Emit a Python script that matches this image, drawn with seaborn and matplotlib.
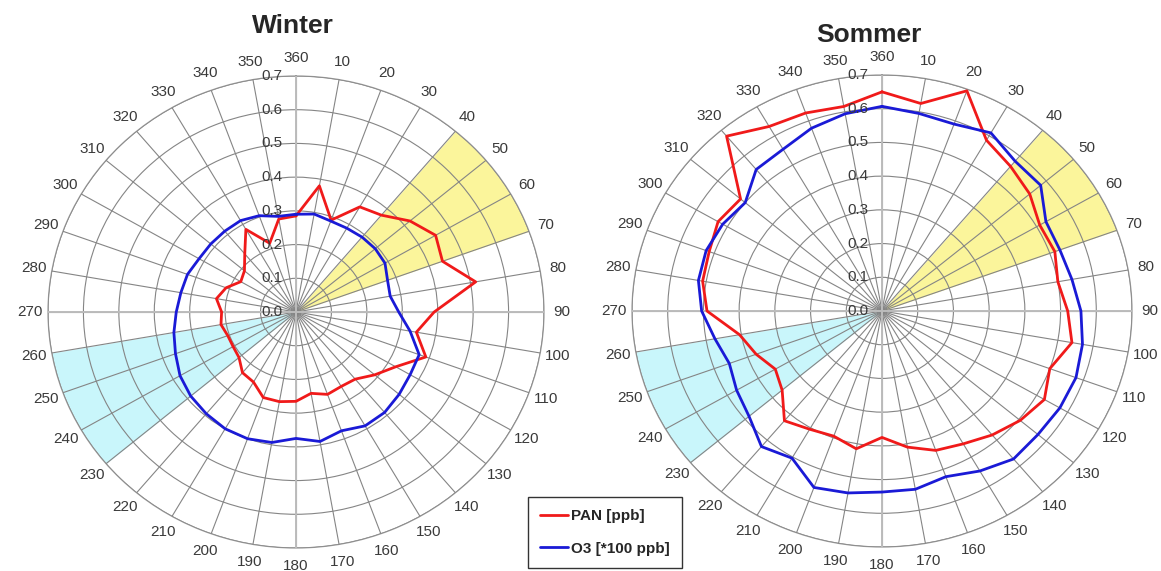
import numpy as np
import pandas as pd
import seaborn as sns
import matplotlib.pyplot as plt

# --- DATEN ---
# Windrichtung in Grad (0 = Nord, im Uhrzeigersinn)
richtung = list(range(0, 360, 10))

# Winter
winter_pan = [0.285, 0.38, 0.29, 0.36, 0.375, 0.42, 0.455, 0.44, 0.515, 0.39,
              0.345, 0.39, 0.325, 0.29, 0.26, 0.255, 0.26, 0.245, 0.265, 0.27,
              0.27, 0.24, 0.235, 0.21, 0.205, 0.205, 0.215, 0.21, 0.228, 0.21,
              0.18, 0.19, 0.225, 0.283, 0.217, 0.28]
winter_o3 = [0.29, 0.295, 0.287, 0.287, 0.29, 0.292, 0.29, 0.275, 0.27, 0.29,
             0.327, 0.37, 0.372, 0.38, 0.389, 0.39, 0.375, 0.39, 0.375, 0.393,
             0.40, 0.40, 0.394, 0.388, 0.378, 0.362, 0.35, 0.338, 0.33, 0.326,
             0.316, 0.314, 0.313, 0.313, 0.304, 0.288]

# Sommer
sommer_pan = [0.65, 0.625, 0.695, 0.585, 0.56, 0.54, 0.51, 0.515, 0.50, 0.52,
              0.54, 0.50, 0.525, 0.505, 0.48, 0.455, 0.44, 0.41, 0.375, 0.415,
              0.395, 0.405, 0.425, 0.365, 0.345, 0.375, 0.405, 0.49, 0.51, 0.515,
              0.53, 0.517, 0.677, 0.632, 0.625, 0.616]
sommer_o3 = [0.607, 0.595, 0.59, 0.61, 0.58, 0.58, 0.53, 0.53, 0.54, 0.557,
             0.57, 0.578, 0.575, 0.57, 0.573, 0.548, 0.523, 0.537, 0.537, 0.548,
             0.557, 0.504, 0.525, 0.486, 0.47, 0.455, 0.475, 0.505, 0.522, 0.524,
             0.515, 0.50, 0.548, 0.554, 0.577, 0.594]

# markierte Sektoren (Grad)
sektor_gelb = [40, 70]
sektor_cyan = [230, 260]

winkel_labels = ['360'] + [str(w) for w in range(10, 360, 10)]
radial_werte = [0.0, 0.1, 0.2, 0.3, 0.4, 0.5, 0.6, 0.7]
radial_labels = ['0.0', '0.1', '0.2', '0.3', '0.4', '0.5', '0.6', '0.7']

rot = '#f01a1a'
blau = '#1a1ad6'

sns.set_style('white')
plt.rcParams['font.family'] = ['Liberation Sans', 'DejaVu Sans']


def zeichne(ax, pan, o3):
    ax.set_theta_zero_location('N')
    ax.set_theta_direction(-1)
    ax.set_aspect('auto')
    # farbige Sektoren
    for sektor, farbe in [(sektor_gelb, '#fbf59b'), (sektor_cyan, '#c9f6fb')]:
        th = np.deg2rad(np.linspace(sektor[0], sektor[1], 60))
        ax.fill_between(th, 0, 0.7, color=farbe, lw=0, zorder=1)
    # Kurven (geschlossen)
    df = pd.DataFrame({
        'theta': np.deg2rad(richtung + [360]),
        'PAN [ppb]': pan + pan[:1],
        'O3 [*100 ppb]': o3 + o3[:1],
    })
    sns.lineplot(data=df, x='theta', y='PAN [ppb]', ax=ax, color=rot, lw=2.0,
                 sort=False, label='PAN [ppb]', zorder=4)
    sns.lineplot(data=df, x='theta', y='O3 [*100 ppb]', ax=ax, color=blau, lw=2.0,
                 sort=False, label='O3 [*100 ppb]', zorder=4)
    if ax.get_legend() is not None:
        ax.get_legend().remove()
    ax.set_xlabel('')
    ax.set_ylabel('')
    # Gitter
    ax.set_ylim(0, 0.7)
    ax.set_xticks(np.deg2rad(richtung))
    ax.set_xticklabels(winkel_labels, fontsize=11, color='#3a3a3a')
    ax.set_yticks(radial_werte[1:])
    ax.set_yticklabels([])
    ax.tick_params(axis='x', pad=6, length=0)
    ax.tick_params(axis='y', length=0)
    ax.set_axisbelow(False)
    ax.grid(True, color='#858585', lw=0.8)
    for w in [0, 90, 180, 270]:
        ax.plot([np.deg2rad(w)] * 2, [0, 0.7], color='#bcbcbc', lw=1.4, zorder=3)
    ax.spines['polar'].set_color('#9a9a9a')
    ax.spines['polar'].set_linewidth(0.9)
    # radiale Beschriftung an der Nordachse
    for r, lbl in zip(radial_werte, radial_labels):
        ax.annotate(lbl, xy=(0, r), xytext=(-14, 0), textcoords='offset pixels',
                    ha='right', va='center', fontsize=11, color='#3a3a3a', zorder=5)


fig = plt.figure(figsize=(11.61, 5.71), dpi=100)
W, H = 1161, 571

ax_w = fig.add_axes([(296 - 248) / W, (H - 312 - 236) / H, 496 / W, 472 / H], projection='polar')
zeichne(ax_w, winter_pan, winter_o3)

ax_s = fig.add_axes([(882 - 250) / W, (H - 311 - 236) / H, 500 / W, 472 / H], projection='polar')
zeichne(ax_s, sommer_pan, sommer_o3)

fig.text(293 / W, 1 - 26 / H, 'Winter', ha='center', va='center', fontsize=19, fontweight='bold')
fig.text(869 / W, 1 - 35 / H, 'Sommer', ha='center', va='center', fontsize=19, fontweight='bold')

handles, labels = ax_w.get_legend_handles_labels()
leg = fig.legend(handles, labels, loc='lower left', bbox_to_anchor=(528 / W, 1 - 568 / H),
                 bbox_transform=fig.transFigure, borderaxespad=0, frameon=True,
                 fancybox=False, edgecolor='black', handlelength=1.8, handletextpad=0.2,
                 labelspacing=1.2, borderpad=0.8, prop={'weight': 'bold', 'size': 11})
leg.get_frame().set_linewidth(1.0)

fig.savefig('out.png', dpi=100)
